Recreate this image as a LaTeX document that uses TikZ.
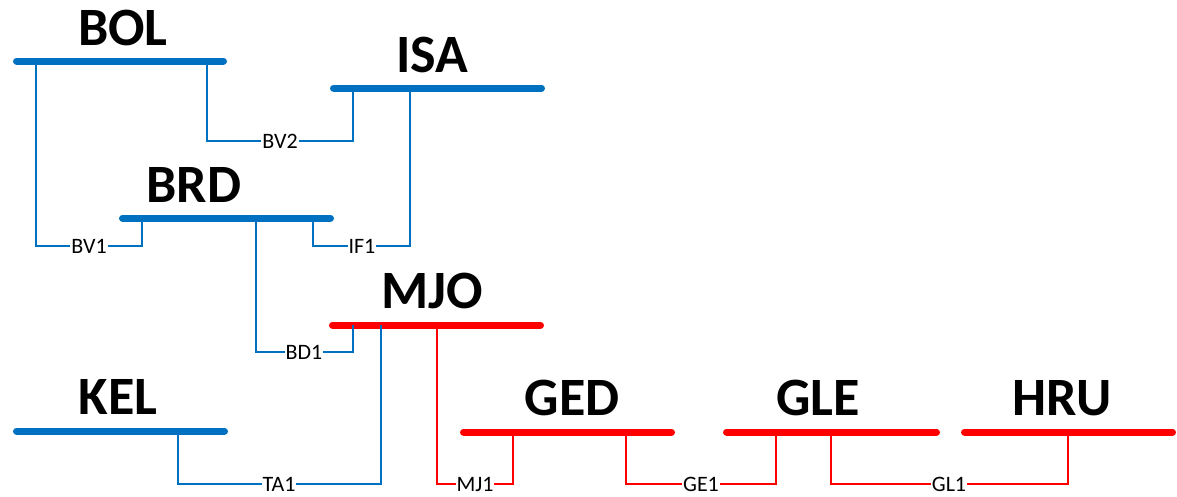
\documentclass[tikz,border=0pt]{standalone}
\usepackage{fontspec}
\setmainfont{Carlito}
\newfontfamily\busfont{Carlito}
\newfontfamily\conlfont{Carlito}
\definecolor{busblue}{HTML}{0070C0}
\definecolor{busred}{HTML}{FF0000}
\tikzset{
  busbar/.style={line width=7pt, line cap=round},
  conn/.style={line width=2.2pt},
  buslabel/.style={font=\busfont\bfseries\fontsize{54}{54}\selectfont, anchor=base, inner sep=0pt, text=black},
  clabel/.style={font=\conlfont\fontsize{22}{22}\selectfont, fill=white, inner sep=0.8pt, text=black},
}
\begin{document}
\begin{tikzpicture}[x=1pt,y=-1pt]
\useasboundingbox (0,0) rectangle (1177,496);
% bus bars
\draw[busbar,busblue] (16.5,61) coordinate (bol-l) -- (223.5,61) coordinate (bol-r);
\draw[busbar,busblue] (333.5,88) coordinate (isa-l) -- (541.5,88) coordinate (isa-r);
\draw[busbar,busblue] (122.5,218) coordinate (brd-l) -- (330.5,218) coordinate (brd-r);
\draw[busbar,busred] (332.5,325) coordinate (mjo-l) -- (540.5,325) coordinate (mjo-r);
\draw[busbar,busblue] (16.5,431) coordinate (kel-l) -- (224.5,431) coordinate (kel-r);
\draw[busbar,busred] (463.5,432) coordinate (ged-l) -- (671.5,432) coordinate (ged-r);
\draw[busbar,busred] (726.5,432) coordinate (gle-l) -- (936.5,432) coordinate (gle-r);
\draw[busbar,busred] (964.5,432) coordinate (hru-l) -- (1172.5,432) coordinate (hru-r);
% bus names
\node[buslabel] (bol) at (123,45) {BOL};
\node[buslabel] (isa) at (432,72) {ISA};
\node[buslabel] (brd) at (194,202) {BRD};
\node[buslabel] (mjo) at (432,308.5) {MJO};
\node[buslabel] (kel) at (118,414) {KEL};
\node[buslabel] (ged) at (572,415) {GED};
\node[buslabel] (gle) at (818,415) {GLE};
\node[buslabel] (hru) at (1062,415) {HRU};
% tap points
\coordinate (bol-t1) at (36,61);
\coordinate (bol-t2) at (207,61);
\coordinate (isa-t1) at (353,88);
\coordinate (isa-t2) at (410,88);
\coordinate (brd-t1) at (142,218);
\coordinate (brd-t2) at (256,218);
\coordinate (brd-t3) at (313,218);
\coordinate (mjo-t1) at (353,325);
\coordinate (mjo-t2) at (381,325);
\coordinate (mjo-t3) at (437,325);
\coordinate (kel-t1) at (178,431);
\coordinate (ged-t1) at (513,432);
\coordinate (ged-t2) at (626,432);
\coordinate (gle-t1) at (776,432);
\coordinate (gle-t2) at (831,432);
\coordinate (hru-t1) at (1068,432);
% connector labels
\node[clabel] (bv1) at (89,246) {BV1};
\node[clabel] (bv2) at (280,141) {BV2};
\node[clabel] (if1) at (362,246) {IF1};
\node[clabel] (bd1) at (304,352) {BD1};
\node[clabel] (ta1) at (279,484) {TA1};
\node[clabel] (mj1) at (475,484) {MJ1};
\node[clabel] (ge1) at (701,484) {GE1};
\node[clabel] (gl1) at (949,484) {GL1};
% connectors
\draw[conn,busblue] (bol-t1) |- (bv1.west);
\draw[conn,busblue] (bv1.east) -| (brd-t1);
\draw[conn,busblue] (bol-t2) |- (bv2.west);
\draw[conn,busblue] (bv2.east) -| (isa-t1);
\draw[conn,busblue] (isa-t2) |- (if1.east);
\draw[conn,busblue] (if1.west) -| (brd-t3);
\draw[conn,busblue] (brd-t2) |- (bd1.west);
\draw[conn,busblue] (bd1.east) -| (mjo-t1);
\draw[conn,busblue] (mjo-t2) |- (ta1.east);
\draw[conn,busblue] (ta1.west) -| (kel-t1);
\draw[conn,busred] (mjo-t3) |- (mj1.west);
\draw[conn,busred] (mj1.east) -| (ged-t1);
\draw[conn,busred] (ged-t2) |- (ge1.west);
\draw[conn,busred] (ge1.east) -| (gle-t1);
\draw[conn,busred] (gle-t2) |- (gl1.west);
\draw[conn,busred] (gl1.east) -| (hru-t1);
\end{tikzpicture}
\end{document}
